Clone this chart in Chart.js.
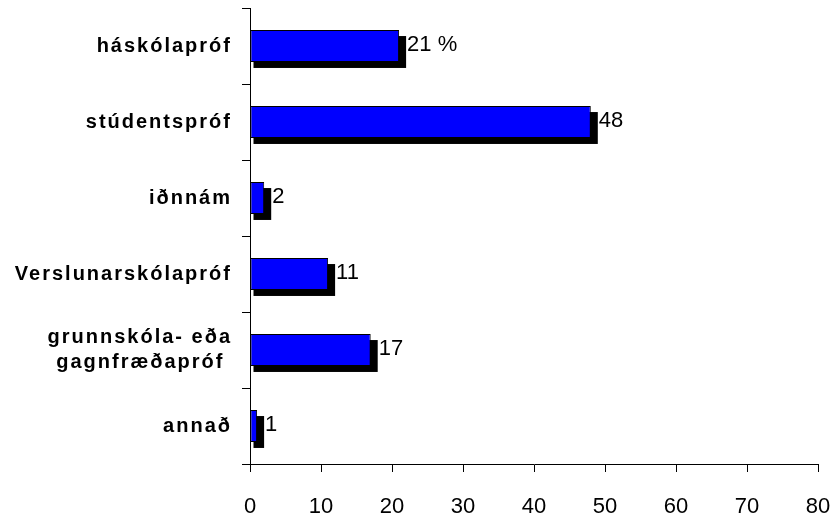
<!DOCTYPE html>
<html>
<head>
<meta charset="utf-8">
<script src="https://cdn.jsdelivr.net/npm/chart.js@4"></script>
<style>
  body { margin: 0; background: #fff; }
  .wrap { position: relative; width: 833px; height: 513px; }
</style>
</head>
<body>
<div class="wrap"><canvas class="edu-chart"></canvas></div>
<script>
const categories = ['háskólapróf', 'stúdentspróf', 'iðnnám', 'Verslunarskólapróf', ['grunnskóla- eða', 'gagnfræðapróf '], 'annað'];
const values = [21, 48, 2, 11, 17, 1];
const xTicks = [0, 10, 20, 30, 40, 50, 60, 70, 80];

// black drop shadow under the bars, drawn from the bar elements
const barShadow = {
  id: 'barShadow',
  beforeDatasetsDraw(chart) {
    const ctx = chart.ctx;
    const meta = chart.getDatasetMeta(0);
    ctx.save();
    ctx.fillStyle = '#000';
    meta.data.forEach(bar => {
      const p = bar.getProps(['x', 'y', 'base', 'height'], true);
      ctx.fillRect(p.base + 3, p.y - p.height / 2 + 6, p.x - p.base + 4, p.height);
    });
    ctx.restore();
  }
};

// value labels to the right of each bar
const valueLabels = {
  id: 'valueLabels',
  afterDatasetsDraw(chart) {
    const ctx = chart.ctx;
    const meta = chart.getDatasetMeta(0);
    ctx.save();
    ctx.font = '22px "Liberation Sans", Arial, sans-serif';
    ctx.fillStyle = '#000';
    ctx.textAlign = 'left';
    ctx.textBaseline = 'middle';
    meta.data.forEach((bar, i) => {
      const txt = i === 0 ? values[i] + ' %' : String(values[i]);
      ctx.fillText(txt, bar.x + 8, bar.y - 1);
    });
    ctx.restore();
    // spaced-out category labels (y ticks are drawn after datasets)
    ctx.letterSpacing = '2px';
  },
  afterDraw(chart) {
    chart.ctx.letterSpacing = '0px';
  }
};

new Chart(document.querySelector('.edu-chart'), {
  type: 'bar',
  data: {
    labels: categories,
    datasets: [{
      data: values,
      backgroundColor: '#0000ff',
      borderColor: '#000',
      borderWidth: 1,
      borderSkipped: false,
      barPercentage: 0.42,
      categoryPercentage: 1
    }]
  },
  options: {
    indexAxis: 'y',
    responsive: true,
    maintainAspectRatio: false,
    animation: false,
    layout: { padding: { top: 8, right: 15, left: 0, bottom: 0 } },
    plugins: { legend: { display: false }, tooltip: { enabled: false } },
    scales: {
      x: {
        min: 0,
        max: 80,
        afterBuildTicks: (scale) => { scale.ticks = xTicks.map(v => ({ value: v })); },
        afterFit: (scale) => { scale.height = 49; scale.paddingLeft = 0; scale.paddingRight = 0; },
        grid: { drawOnChartArea: false, tickLength: 8, color: '#000' },
        border: { color: '#000', width: 1 },
        ticks: {
          color: '#000',
          padding: 22,
          maxRotation: 0,
          font: { family: '"Liberation Sans", Arial, sans-serif', size: 22 }
        }
      },
      y: {
        afterFit: (scale) => { scale.width = 250; scale.paddingTop = 0; scale.paddingBottom = 0; },
        grid: { drawOnChartArea: false, tickLength: 8, color: '#000', offset: true },
        border: { color: '#000', width: 1 },
        ticks: {
          z: 1,
          color: '#000',
          padding: 10,
          font: { family: '"Liberation Sans", Arial, sans-serif', size: 20, weight: 'bold', lineHeight: 1.25 }
        }
      }
    }
  },
  plugins: [barShadow, valueLabels]
});
</script>
</body>
</html>
